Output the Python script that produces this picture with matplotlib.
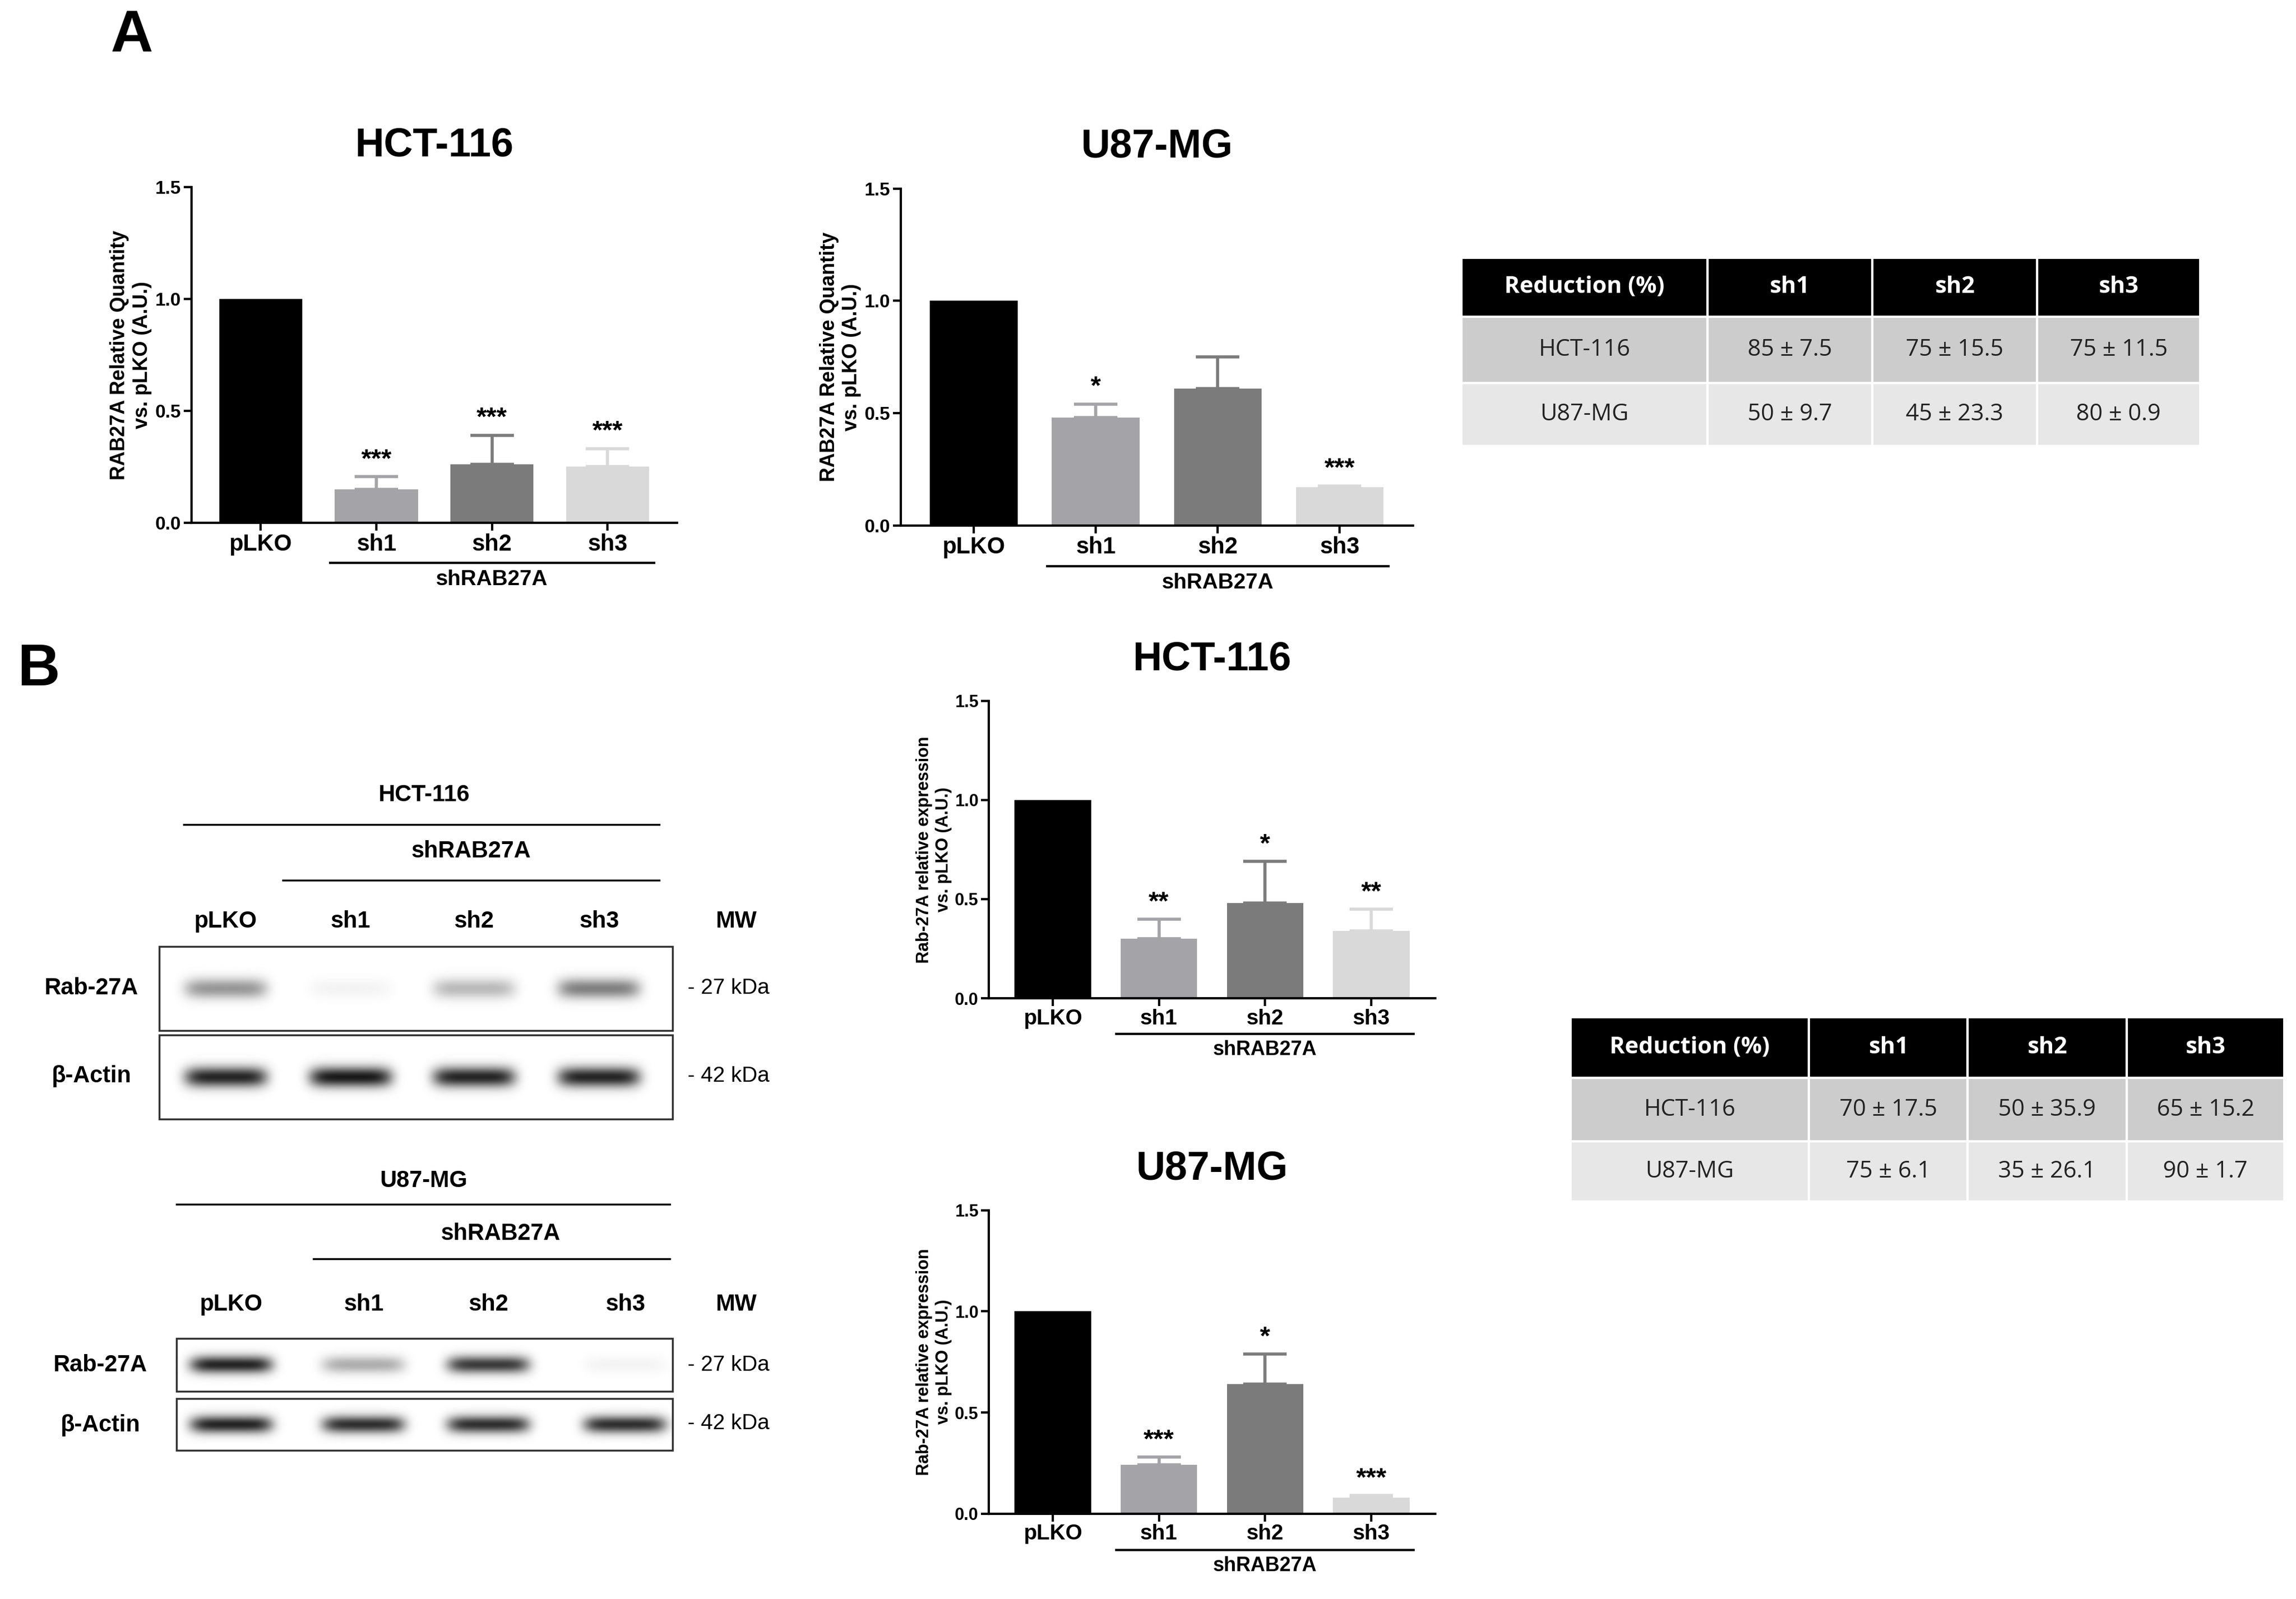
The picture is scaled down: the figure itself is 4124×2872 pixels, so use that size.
import numpy as np
import matplotlib
matplotlib.use("Agg")
import matplotlib.pyplot as plt
from matplotlib.patches import Rectangle
import matplotlib.transforms as mt

plt.rcParams['font.family'] = ['Liberation Sans', 'DejaVu Sans']

categories = ["pLKO", "sh1", "sh2", "sh3"]
colors = ["#000000", "#a3a3a8", "#7b7b7b", "#d9d9d9"]

a_hct_vals = [1.0, 0.15, 0.26, 0.25]
a_hct_err = [0.0, 0.055, 0.13, 0.08]
a_hct_stars = ["", "***", "***", "***"]
a_u87_vals = [1.0, 0.48, 0.61, 0.17]
a_u87_err = [0.0, 0.06, 0.14, 0.006]
a_u87_stars = ["", "*", "", "***"]
b_hct_vals = [1.0, 0.30, 0.48, 0.34]
b_hct_err = [0.0, 0.10, 0.21, 0.11]
b_hct_stars = ["", "**", "*", "**"]
b_u87_vals = [1.0, 0.24, 0.64, 0.08]
b_u87_err = [0.0, 0.04, 0.15, 0.01]
b_u87_stars = ["", "***", "*", "***"]

table_cols = ["Reduction (%)", "sh1", "sh2", "sh3"]
table_a = [["HCT-116", "85 ± 7.5", "75 ± 15.5", "75 ± 11.5"],
           ["U87-MG", "50 ± 9.7", "45 ± 23.3", "80 ± 0.9"]]
table_b = [["HCT-116", "70 ± 17.5", "50 ± 35.9", "65 ± 15.2"],
           ["U87-MG", "75 ± 6.1", "35 ± 26.1", "90 ± 1.7"]]

# blot band intensities (0..1)
hct_rab = [0.45, 0.05, 0.3, 0.55]
hct_act = [0.95, 1.0, 0.95, 0.95]
u87_rab = [0.95, 0.35, 0.85, 0.05]
u87_act = [0.95, 0.9, 0.9, 0.9]

W, H = 1560, 1086
fig = plt.figure(figsize=(41.24, 28.72), dpi=100)

def fx(x0, y0, x1, y1):
    return [x0 / W, 1 - y1 / H, (x1 - x0) / W, (y1 - y0) / H]

def bar_chart(rect, vals, errs, stars, title, ylabel, fs_tick, fs_lab):
    ax = fig.add_axes(fx(*rect))
    x = np.arange(len(categories))
    ax.bar(x, vals, width=0.72, color=colors, zorder=2)
    for i in range(1, 4):
        ax.errorbar(x[i], vals[i], yerr=[[0], [errs[i]]], color=colors[i],
                    capsize=28, elinewidth=4, capthick=4, zorder=1)
        if stars[i]:
            ax.text(x[i], vals[i] + errs[i] + 0.02, stars[i], ha='center',
                    va='bottom', fontsize=34, fontweight='bold')
    ax.set_ylim(0, 1.5)
    ax.set_xlim(-0.6, 3.6)
    ax.set_yticks([0, 0.5, 1.0, 1.5])
    ax.set_yticklabels(["0.0", "0.5", "1.0", "1.5"])
    ax.set_xticks(x)
    ax.set_xticklabels(categories, fontweight='bold', fontsize=fs_tick)
    for t in ax.get_yticklabels():
        t.set_fontweight('bold'); t.set_fontsize(fs_tick - 6)
    ax.tick_params(width=3, length=10)
    ax.spines[['top', 'right']].set_visible(False)
    ax.spines[['left', 'bottom']].set_linewidth(3)
    ax.set_title(title, fontsize=52, fontweight='bold', pad=40)
    ax.set_ylabel(ylabel, fontsize=fs_lab, fontweight='bold')
    tr = mt.blended_transform_factory(ax.transData, ax.transAxes)
    ax.plot([0.6, 3.4], [-0.12, -0.12], color='k', lw=3, transform=tr, clip_on=False)
    ax.text(2, -0.14, "shRAB27A", transform=tr, ha='center', va='top',
            fontsize=fs_tick - 2, fontweight='bold')
    return ax

bar_chart((130, 127, 460, 355), a_hct_vals, a_hct_err, a_hct_stars, "HCT-116",
          "RAB27A Relative Quantity\nvs. pLKO (A.U.)", 30, 26)
bar_chart((612, 128, 960, 357), a_u87_vals, a_u87_err, a_u87_stars, "U87-MG",
          "RAB27A Relative Quantity\nvs. pLKO (A.U.)", 30, 26)
bar_chart((672, 476, 975, 678), b_hct_vals, b_hct_err, b_hct_stars, "HCT-116",
          "Rab-27A relative expression\nvs. pLKO (A.U.)", 28, 22)
bar_chart((672, 822, 975, 1028), b_u87_vals, b_u87_err, b_u87_stars, "U87-MG",
          "Rab-27A relative expression\nvs. pLKO (A.U.)", 28, 22)

ov = fig.add_axes([0, 0, 1, 1], zorder=-1)
ov.set_xlim(0, W); ov.set_ylim(H, 0); ov.axis('off')

ov.text(75, 25, "A", fontsize=76, fontweight='bold', va='center')
ov.text(12, 455, "B", fontsize=76, fontweight='bold', va='center')

def table(x0, y0, colw, rowh, rows):
    xs = np.concatenate([[x0], x0 + np.cumsum(colw)])
    ys = [y0, y0 + rowh[0], y0 + rowh[0] + rowh[1], y0 + sum(rowh)]
    fills = ["#000000", "#cccccc", "#e7e7e7"]
    data = [table_cols] + rows
    for r in range(3):
        for c in range(4):
            ov.add_patch(Rectangle((xs[c], ys[r]), colw[c], ys[r + 1] - ys[r],
                                   facecolor=fills[r], edgecolor='white', lw=3))
            ov.text((xs[c] + xs[c + 1]) / 2, (ys[r] + ys[r + 1]) / 2, data[r][c],
                    ha='center', va='center', fontsize=30,
                    family=['Open Sans', 'DejaVu Sans'],
                    color='white' if r == 0 else '#222222',
                    fontweight='bold' if r == 0 else 'normal')

table(993, 175, [167, 112, 112, 111], [40, 45, 43], table_a)
table(1067, 691, [162, 108, 108, 107], [41, 43, 41], table_b)

def blot(x0, y0, x1, y1, lanes, intens, bh):
    ov.add_patch(Rectangle((x0, y0), x1 - x0, y1 - y0, fill=False, lw=2.5,
                           edgecolor='#333333', zorder=3))
    nx, ny = 400, 60
    xx = np.linspace(x0, x1, nx)
    yy = np.linspace(y0, y1, ny)
    X, Y = np.meshgrid(xx, yy)
    img = np.zeros_like(X)
    yc = (y0 + y1) / 2
    for lx, v in zip(lanes, intens):
        img += v * np.exp(-((X - lx) / 28) ** 6) * np.exp(-((Y - yc) / bh) ** 2)
    img = np.clip(img, 0, 1)
    ov.imshow(1 - 0.9 * img, cmap='gray', vmin=0, vmax=1, extent=(x0, x1, y1, y0),
              aspect='auto', zorder=2)

bf = dict(fontsize=30, fontweight='bold', ha='center', va='center')
# HCT blot
ov.text(288, 540, "HCT-116", **bf)
ov.plot([125, 448], [560, 560], color='k', lw=2.5)
ov.text(320, 578, "shRAB27A", **bf)
ov.plot([192, 448], [598, 598], color='k', lw=2.5)
hl = [153, 238, 322, 407]
for l, t in zip(hl, categories):
    ov.text(l, 626, t, **bf)
ov.text(500, 626, "MW", **bf)
blot(108, 643, 457, 700, hl, hct_rab, 7)
blot(108, 703, 457, 760, hl, hct_act, 7)
ov.text(62, 671, "Rab-27A", **bf)
ov.text(62, 731, "β-Actin", **bf)
ov.text(467, 671, "- 27 kDa", fontsize=28, va='center')
ov.text(467, 731, "- 42 kDa", fontsize=28, va='center')
# U87 blot
ov.text(288, 802, "U87-MG", **bf)
ov.plot([120, 455], [818, 818], color='k', lw=2.5)
ov.text(340, 838, "shRAB27A", **bf)
ov.plot([213, 455], [855, 855], color='k', lw=2.5)
ul = [157, 247, 332, 425]
for l, t in zip(ul, categories):
    ov.text(l, 886, t, **bf)
ov.text(500, 886, "MW", **bf)
blot(120, 909, 457, 945, ul, u87_rab, 6)
blot(120, 950, 457, 985, ul, u87_act, 6)
ov.text(68, 927, "Rab-27A", **bf)
ov.text(68, 968, "β-Actin", **bf)
ov.text(467, 927, "- 27 kDa", fontsize=28, va='center')
ov.text(467, 967, "- 42 kDa", fontsize=28, va='center')

fig.savefig("out.png", dpi=100)
